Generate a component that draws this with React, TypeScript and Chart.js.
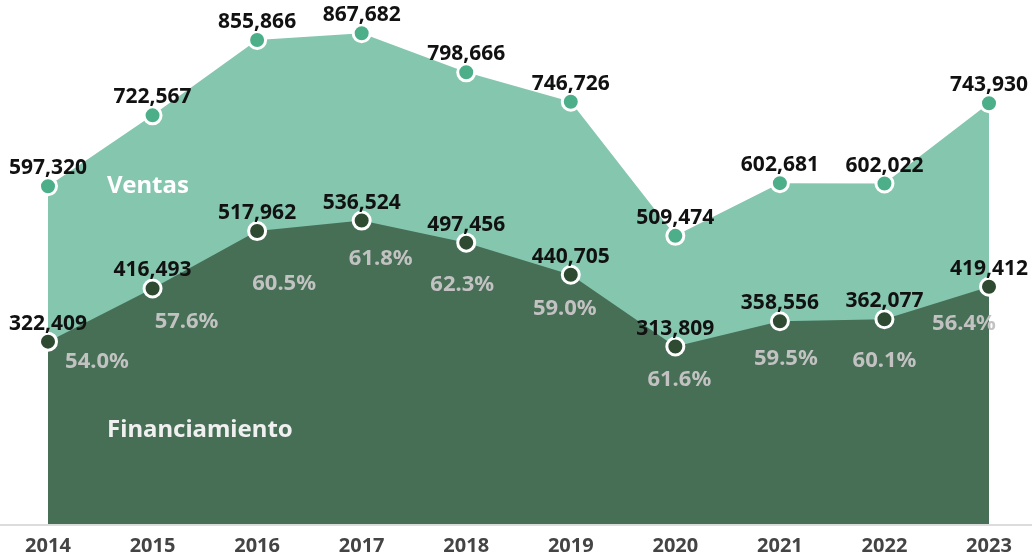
import React, { useEffect, useRef } from "react";
import { Chart, registerables } from "chart.js";

Chart.register(...registerables);

const years = ["2014", "2015", "2016", "2017", "2018", "2019", "2020", "2021", "2022", "2023"];
const ventas = [597320, 722567, 855866, 867682, 798666, 746726, 509474, 602681, 602022, 743930];
const financiamiento = [322409, 416493, 517962, 536524, 497456, 440705, 313809, 358556, 362077, 419412];

// label nudges for the share labels (px, relative to the Financiamiento point)
const pctNudgeX = [49, 34, 27, 19, -4, -6, 4, 6, 0, -25];
const pctNudgeY = [20, 33, 53, 38, 42, 34, 33, 38, 42, 37];

const FONT = "'Noto Sans', sans-serif";

const labelPlugin = {
  id: "labelPlugin",
  afterDraw(chart: any) {
    const ctx = chart.ctx;
    const xs = chart.scales.x;
    const ys = chart.scales.y;
    ctx.save();
    // full-width baseline
    ctx.strokeStyle = "#dcdcdc";
    ctx.lineWidth = 2;
    ctx.beginPath();
    ctx.moveTo(0, chart.chartArea.bottom + 1);
    ctx.lineTo(chart.width, chart.chartArea.bottom + 1);
    ctx.stroke();

    // series names
    const step = xs.getPixelForValue(1) - xs.getPixelForValue(0);
    const x0 = xs.getPixelForValue(0) + 0.565 * step;
    ctx.textAlign = "left";
    ctx.textBaseline = "middle";
    ctx.font = `bold 24px ${FONT}`;
    ctx.fillStyle = "#ffffff";
    ctx.fillText("Ventas", x0, ys.getPixelForValue(ventas[0]));
    ctx.fillStyle = "#f0f0f0";
    ctx.fillText("Financiamiento", x0, ys.getPixelForValue(166000));

    // percentage labels
    const finMeta = chart.getDatasetMeta(1);
    ctx.textAlign = "center";
    ctx.font = `bold 22px ${FONT}`;
    ctx.fillStyle = "#c2c2c2";
    finMeta.data.forEach((pt: any, i: number) => {
      const pct = ((financiamiento[i] / ventas[i]) * 100).toFixed(1) + "%";
      ctx.fillText(pct, pt.x + pctNudgeX[i], pt.y + pctNudgeY[i]);
    });

    // value labels
    ctx.font = `bold 21px ${FONT}`;
    ctx.fillStyle = "#111111";
    [0, 1].forEach((di) => {
      const meta = chart.getDatasetMeta(di);
      const vals = di === 0 ? ventas : financiamiento;
      meta.data.forEach((pt: any, i: number) => {
        ctx.fillText(vals[i].toLocaleString("en-US"), pt.x, pt.y - 18);
      });
    });
    ctx.restore();
  },
};

export default function App() {
  const ref = useRef<HTMLCanvasElement>(null);
  useEffect(() => {
    document.body.style.margin = "0";
    const chart = new Chart(ref.current!, {
      type: "line",
      data: {
        labels: years,
        datasets: [
          {
            label: "Ventas",
            data: ventas,
            fill: "origin",
            backgroundColor: "#85c6af",
            borderWidth: 0,
            borderColor: "#85c6af",
            pointBackgroundColor: "#4caf8a",
            pointBorderColor: "#ffffff",
            pointBorderWidth: 3,
            pointRadius: 8.5,
            tension: 0,
            clip: false,
            order: 2,
          },
          {
            label: "Financiamiento",
            data: financiamiento,
            fill: "origin",
            backgroundColor: "#466f55",
            borderWidth: 0,
            borderColor: "#466f55",
            pointBackgroundColor: "#2e4a30",
            pointBorderColor: "#ffffff",
            pointBorderWidth: 3,
            pointRadius: 8.5,
            tension: 0,
            clip: false,
            order: 1,
          },
        ],
      },
      options: {
        animation: false,
        responsive: false,
        maintainAspectRatio: false,
        layout: { padding: { top: 15, left: 48, right: 43, bottom: 0 } },
        plugins: { legend: { display: false }, tooltip: { enabled: false } },
        scales: {
          x: {
            offset: false,
            grid: { display: false },
            border: { display: false },
            ticks: {
              font: { family: FONT, weight: "bold", size: 20 },
              color: "#444444",
              padding: 2,
              maxRotation: 0,
              autoSkip: false,
            },
            afterFit(scale: any) {
              scale.height = 28;
            },
          },
          y: {
            display: false,
            min: 0,
            max: 900000,
          },
        },
      },
      plugins: [labelPlugin],
    });
    return () => chart.destroy();
  }, []);
  return (
    <div style={{ width: 1032, height: 552 }}>
      <canvas ref={ref} width={1032} height={552} style={{ display: "block" }} />
    </div>
  );
}
